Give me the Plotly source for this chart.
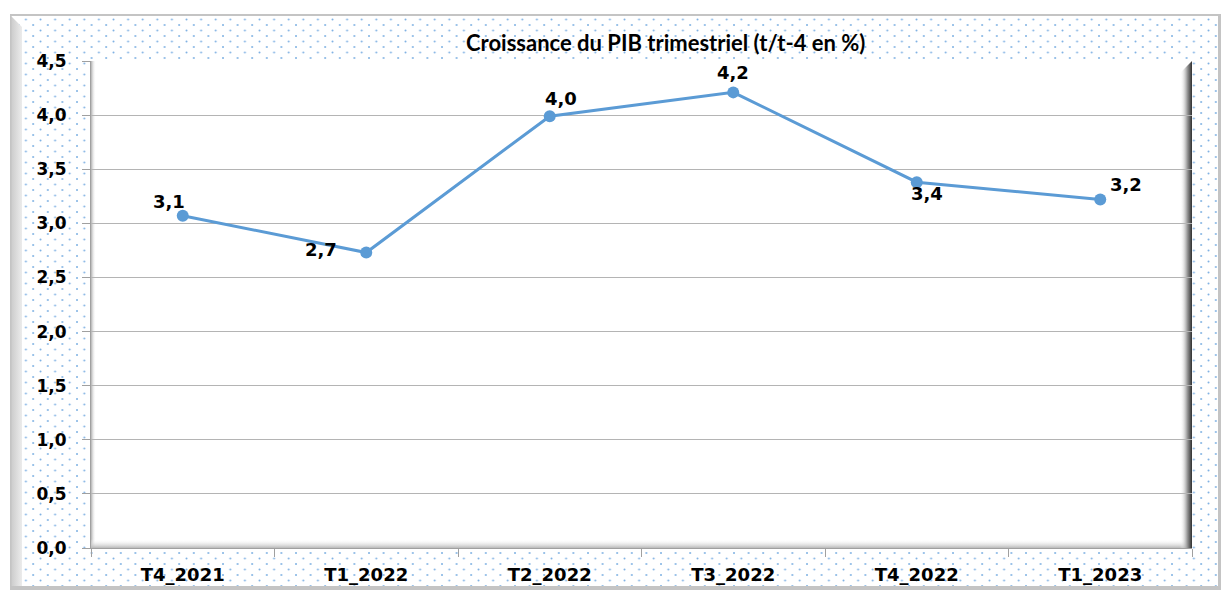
import base64
import plotly.graph_objects as go

# ---- data ----
categories = ["T4_2021", "T1_2022", "T2_2022", "T3_2022", "T4_2022", "T1_2023"]
values = [3.07, 2.73, 3.99, 4.21, 3.38, 3.22]
labels = [f"{v:.1f}".replace(".", ",") for v in values]
title_text = "Croissance du PIB trimestriel (t/t-4 en %)"

# ---- layout geometry (pixels) ----
W, H = 1221, 590
ML, MR, MT, MB = 91, 29, 61, 42
PW, PH = W - ML - MR, H - MT - MB

# label offsets (style) relative to the point
label_shift = [(-14, 14), (-45, 3), (11, 18), (0, 20), (10, -11), (26, 15)]

LINE_C = "#5b9bd5"
GRID_C = "#b4b4b4"
AXIS_C = "#a0a0a0"

# ---- decorative background (dotted frame + plot-area bevel) ----
px0, py0, px1, py1 = ML, MT, ML + PW, MT + PH
svg = f'''<svg xmlns="http://www.w3.org/2000/svg" width="{W}" height="{H}" viewBox="0 0 {W} {H}">
<defs>
<pattern id="d" x="3" y="2" width="14.6" height="11" patternUnits="userSpaceOnUse">
<circle cx="1" cy="1" r="1" fill="#7fb1e3"/>
<circle cx="8.3" cy="6.5" r="1" fill="#7fb1e3"/>
</pattern>
<linearGradient id="rs" x1="0" x2="1" y1="0" y2="0">
<stop offset="0" stop-color="#ffffff" stop-opacity="0"/>
<stop offset="0.6" stop-color="#9a9a9a"/>
<stop offset="1" stop-color="#303030"/>
</linearGradient>
<linearGradient id="bs" x1="0" x2="0" y1="0" y2="1">
<stop offset="0" stop-color="#ffffff" stop-opacity="0"/>
<stop offset="1" stop-color="#b8b8b8"/>
</linearGradient>
<linearGradient id="ls" x1="0" x2="1" y1="0" y2="0">
<stop offset="0" stop-color="#b0b0b0"/>
<stop offset="1" stop-color="#ffffff" stop-opacity="0"/>
</linearGradient>
<linearGradient id="fl" x1="0" x2="1" y1="0" y2="0">
<stop offset="0" stop-color="#c8c8c8"/>
<stop offset="1" stop-color="#ececec"/>
</linearGradient>
</defs>
<rect x="0" y="0" width="{W}" height="{H}" fill="#ffffff"/>
<rect x="10" y="15" width="{W-10}" height="{H-15}" fill="#ffffff"/>
<rect x="10" y="15" width="{W-10}" height="{H-15}" fill="url(#d)"/>
<polygon points="10,15 22,27 22,{H} 10,{H}" fill="url(#fl)"/>
<rect x="10" y="14" width="{W-10}" height="2" fill="#c4c4c4"/>
<rect x="10" y="15" width="1.5" height="{H-15}" fill="#c4c4c4"/>
<rect x="{W-3}" y="15" width="3" height="{H-15}" fill="#c4c4c4"/>
<rect x="10" y="{H-4}" width="{W-10}" height="4" fill="#c4c4c4"/>
<rect x="{px0}" y="{py0}" width="{PW}" height="{PH}" fill="#ffffff"/>
<rect x="{px0}" y="{py0}" width="5" height="{PH}" fill="url(#ls)"/>
<rect x="{px0}" y="{py1-9}" width="{PW}" height="9" fill="url(#bs)"/>
<polygon points="{px1-12},{py0+12} {px1},{py0} {px1},{py1} {px1-12},{py1}" fill="url(#rs)"/>
</svg>'''
svg_uri = "data:image/svg+xml;base64," + base64.b64encode(svg.encode()).decode()

fig = go.Figure()
fig.add_trace(go.Scatter(
    x=categories, y=values, mode="lines+markers",
    line=dict(color=LINE_C, width=3),
    marker=dict(color=LINE_C, size=12),
    hoverinfo="skip", showlegend=False,
))

for c, v, t, (dx, dy) in zip(categories, values, labels, label_shift):
    fig.add_annotation(x=c, y=v, text=t, showarrow=False, xshift=dx, yshift=dy,
                       font=dict(family="DejaVu Sans", size=18, color="#000000", weight="bold"),
                       xanchor="center", yanchor="middle")

fig.add_annotation(xref="paper", yref="paper", x=(665 - ML) / PW, y=1 + (MT - 42) / PH,
                   text=title_text, showarrow=False,
                   xanchor="center", yanchor="middle",
                   font=dict(family="Lato", size=22, color="#000000", weight="bold"))

fig.add_layout_image(dict(
    source=svg_uri, xref="paper", yref="paper",
    x=-ML / PW, y=1 + MT / PH, sizex=W / PW, sizey=H / PH,
    xanchor="left", yanchor="top", sizing="stretch", layer="below",
))

ytickfont = dict(family="DejaVu Sans", size=17, color="#000000", weight="bold")
xtickfont = dict(family="DejaVu Sans", size=18, color="#000000", weight="bold")
fig.update_layout(
    width=W, height=H,
    margin=dict(l=ML, r=MR, t=MT, b=MB, pad=0),
    paper_bgcolor="#ffffff", plot_bgcolor="rgba(0,0,0,0)",
    separators=", ",
    xaxis=dict(
        type="category", range=[-0.5, len(categories) - 0.5],
        tickson="boundaries", ticks="outside", ticklen=8, tickcolor=AXIS_C,
        showline=True, linecolor=AXIS_C, linewidth=1, showgrid=False,
        tickfont=xtickfont, ticklabelstandoff=10, automargin=False, fixedrange=True,
    ),
    yaxis=dict(
        range=[0, 4.5], dtick=0.5, tick0=0, tickformat=".1f",
        ticks="outside", ticklen=8, tickcolor=AXIS_C,
        showline=True, linecolor=AXIS_C, linewidth=1,
        showgrid=True, gridcolor=GRID_C, gridwidth=1, zeroline=False,
        tickfont=ytickfont, ticklabelstandoff=12, automargin=False, fixedrange=True,
    ),
)

fig.write_html("out.html", config={"displayModeBar": False},
               post_script="document.body.style.margin='0';document.body.style.overflow='hidden';")
